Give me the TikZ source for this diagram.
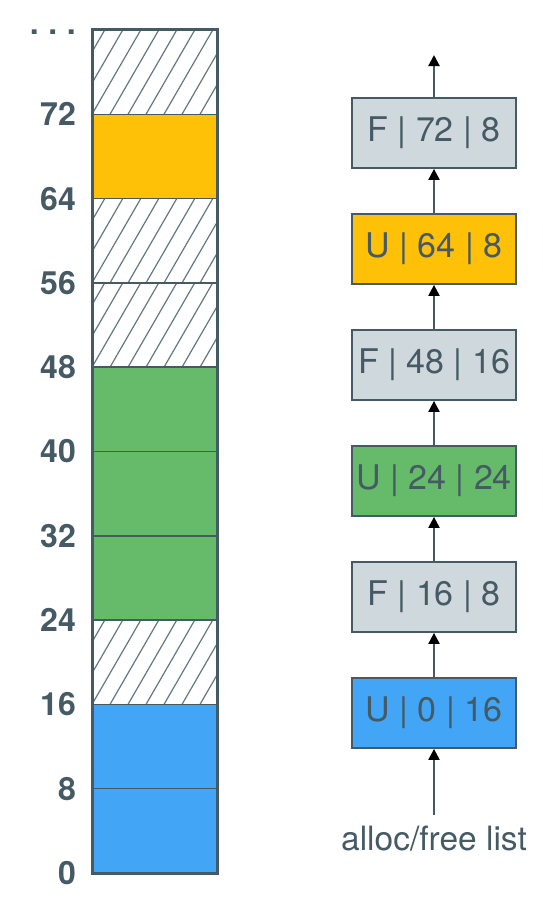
\documentclass[tikz,border=0pt]{standalone}
\usepackage{fontspec}
\setmainfont{TeX Gyre Heros}
\usetikzlibrary{arrows.meta}
\definecolor{slate}{HTML}{455A64}
\definecolor{hatchc}{HTML}{66787F}
\definecolor{ublue}{HTML}{42A5F5}
\definecolor{ugreen}{HTML}{66BB6A}
\definecolor{uorange}{HTML}{FFC107}
\definecolor{fgray}{HTML}{CFD8DC}
\tikzset{
  seg/.style={minimum width=125pt, minimum height=84.3pt, inner sep=0pt, outer sep=0pt, draw=slate, line width=1.5pt},
  cblue/.style={fill=ublue},
  cgreen/.style={fill=ugreen},
  corange/.style={fill=uorange},
  hatched/.style={fill=white, path picture={
      \foreach \k in {-8,...,8}
        \draw[hatchc, line width=1.2pt] ([xshift=\k*18pt]path picture bounding box.south west) -- ++(100,-173);
    }},
  lbl/.style={anchor=east, text=slate, font=\fontsize{32}{36}\selectfont\bfseries, inner sep=0pt},
  blk/.style={draw=slate, line width=1.8pt, minimum width=164pt, minimum height=70pt, inner sep=0pt, text=slate, font=\fontsize{34}{38}\selectfont},
  lnk/.style={draw=slate, line width=2.2pt, -{Triangle[width=11pt,length=11pt,color=black]}},
  captext/.style={text=slate, font=\fontsize{33.5}{37}\selectfont, inner sep=0pt, anchor=north}
}
\begin{document}
\begin{tikzpicture}[x=1pt,y=-1pt]
\useasboundingbox (0,0) rectangle (542,910);
% memory column
\foreach \i/\f in {0/cblue,1/cblue,2/hatched,3/cgreen,4/cgreen,5/cgreen,6/hatched,7/hatched,8/corange,9/hatched}{
  \pgfmathsetmacro{\cy}{873-(\i*8+4)*10.5375}
  \node[seg, \f] (m\i) at (154.5,\cy) {};
}
\draw[slate, line width=3pt] (m0.south west) rectangle (m9.north east);
% labels
\foreach \v in {0,8,...,72}{
  \pgfmathsetmacro{\ly}{873-\v*10.5375}
  \node[lbl] (l\v) at (76,\ly) {\v};
}
\node[lbl, anchor=base east] (ldots) at (76,34) {.\hspace{9.6pt}.\hspace{9.6pt}.};
% list
\node[blk, fill=ublue]   (b0) at (434,713) {U | 0 | 16};
\node[blk, fill=fgray]   (b1) at (434,597) {F | 16 | 8};
\node[blk, fill=ugreen]  (b2) at (434,481) {U | 24 | 24};
\node[blk, fill=fgray]   (b3) at (434,365) {F | 48 | 16};
\node[blk, fill=uorange] (b4) at (434,249) {U | 64 | 8};
\node[blk, fill=fgray]   (b5) at (434,133) {F | 72 | 8};
\coordinate (top) at (434,55);
\node[captext] (lst) at (434,826) {alloc/free list};
\draw[lnk, shorten <=11pt] (lst.north) -- (b0.south);
\draw[lnk] (b0.north) -- (b1.south);
\draw[lnk] (b1.north) -- (b2.south);
\draw[lnk] (b2.north) -- (b3.south);
\draw[lnk] (b3.north) -- (b4.south);
\draw[lnk] (b4.north) -- (b5.south);
\draw[lnk] (b5.north) -- (top);
\end{tikzpicture}
\end{document}
